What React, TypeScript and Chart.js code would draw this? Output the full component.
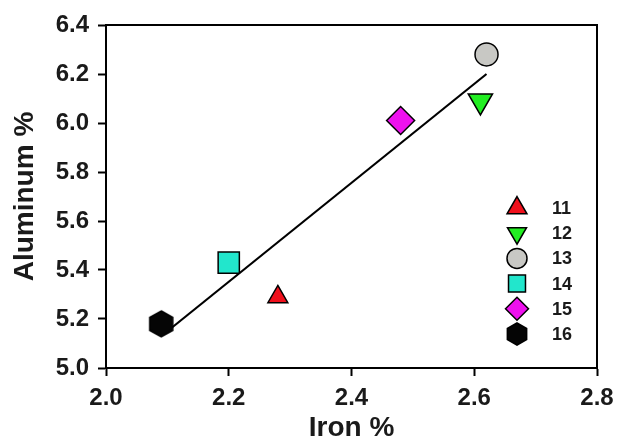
import React, { useEffect, useRef } from 'react';
import { Chart, registerables } from 'chart.js';

Chart.register(...registerables);

// ---- data ----
const SERIES_LABELS = ['11', '12', '13', '14', '15', '16'];
const IRON = [2.28, 2.61, 2.62, 2.2, 2.48, 2.09];
const ALUMINUM = [5.29, 6.09, 6.28, 5.43, 6.01, 5.18];
const FILL_COLORS = ['#f0101c', '#22ee22', '#c8c8c4', '#22e6cc', '#ee11ee', '#050505'];
const FIT_X = [2.1, 2.62];
const FIT_Y = [5.15, 6.2];
const X_TICKS = [2.0, 2.2, 2.4, 2.6, 2.8];
const Y_TICKS = [5.0, 5.2, 5.4, 5.6, 5.8, 6.0, 6.2, 6.4];

function makeHexagon(w: number, h: number, fill: string): HTMLCanvasElement {
  const c = document.createElement('canvas');
  c.width = w + 4;
  c.height = h + 4;
  const ctx = c.getContext('2d')!;
  const cx = c.width / 2;
  const cy = c.height / 2;
  const rx = w / 2;
  const ry = h / 2;
  ctx.beginPath();
  ctx.moveTo(cx, cy - ry);
  ctx.lineTo(cx + rx, cy - ry / 2);
  ctx.lineTo(cx + rx, cy + ry / 2);
  ctx.lineTo(cx, cy + ry);
  ctx.lineTo(cx - rx, cy + ry / 2);
  ctx.lineTo(cx - rx, cy - ry / 2);
  ctx.closePath();
  ctx.fillStyle = fill;
  ctx.fill();
  ctx.lineWidth = 1.5;
  ctx.strokeStyle = '#000';
  ctx.stroke();
  return c;
}

type Shape = { style: string; rot: number; r: number };
const PLOT_SHAPES: Shape[] = [
  { style: 'triangle', rot: 0, r: 11.5 },
  { style: 'triangle', rot: 180, r: 14 },
  { style: 'circle', rot: 0, r: 11.5 },
  { style: 'rect', rot: 0, r: 15 },
  { style: 'rectRot', rot: 0, r: 14 },
  { style: 'hex', rot: 0, r: 12 },
];
const LEGEND_SHAPES: Shape[] = [
  { style: 'triangle', rot: 0, r: 11.5 },
  { style: 'triangle', rot: 180, r: 11 },
  { style: 'circle', rot: 0, r: 10 },
  { style: 'rect', rot: 0, r: 12 },
  { style: 'rectRot', rot: 0, r: 11.5 },
  { style: 'hex', rot: 0, r: 10.5 },
];

function drawShape(ctx: CanvasRenderingContext2D, s: Shape, x: number, y: number, fill: string) {
  ctx.save();
  ctx.beginPath();
  const r = s.r;
  if (s.style === 'triangle') {
    let rad = (s.rot * Math.PI) / 180;
    for (let i = 0; i < 3; i++) {
      const px = x + Math.sin(rad) * r;
      const py = y - Math.cos(rad) * r;
      if (i === 0) ctx.moveTo(px, py);
      else ctx.lineTo(px, py);
      rad += (2 * Math.PI) / 3;
    }
  } else if (s.style === 'circle') {
    ctx.arc(x, y, r, 0, Math.PI * 2);
  } else if (s.style === 'rect') {
    const h = Math.SQRT1_2 * r;
    ctx.rect(x - h, y - h, 2 * h, 2 * h);
  } else if (s.style === 'rectRot') {
    ctx.moveTo(x - r, y);
    ctx.lineTo(x, y - r);
    ctx.lineTo(x + r, y);
    ctx.lineTo(x, y + r);
  } else {
    const rx = r * 0.92;
    const ry = r * 1.05;
    ctx.moveTo(x, y - ry);
    ctx.lineTo(x + rx, y - ry / 2);
    ctx.lineTo(x + rx, y + ry / 2);
    ctx.lineTo(x, y + ry);
    ctx.lineTo(x - rx, y + ry / 2);
    ctx.lineTo(x - rx, y - ry / 2);
  }
  ctx.closePath();
  ctx.fillStyle = fill;
  ctx.fill();
  ctx.lineWidth = 1.5;
  ctx.strokeStyle = '#000';
  ctx.stroke();
  ctx.restore();
}

const framePlugin = {
  id: 'frame',
  beforeDatasetsDraw(chart: any) {
    const { ctx, chartArea } = chart;
    ctx.save();
    ctx.strokeStyle = '#000';
    ctx.lineWidth = 2;
    ctx.strokeRect(chartArea.left, chartArea.top, chartArea.right - chartArea.left, chartArea.bottom - chartArea.top);
    ctx.restore();
  },
};

const legendPlugin = {
  id: 'customLegend',
  afterDatasetsDraw(chart: any) {
    const { ctx, chartArea } = chart;
    const markerX = chartArea.right - 80;
    const textX = chartArea.right - 45;
    const y0 = chartArea.bottom - 160;
    const step = 25.2;
    ctx.save();
    SERIES_LABELS.forEach((lab, i) => {
      const y = y0 + i * step;
      drawShape(ctx, LEGEND_SHAPES[i], markerX, y, FILL_COLORS[i]);
      ctx.fillStyle = '#1a1a1a';
      ctx.font = 'bold 18px "Liberation Sans", Arial, sans-serif';
      ctx.textAlign = 'left';
      ctx.textBaseline = 'middle';
      ctx.fillText(lab, textX, y + 1);
    });
    ctx.restore();
  },
};

export default function App() {
  const ref = useRef<HTMLCanvasElement | null>(null);

  useEffect(() => {
    if (!ref.current) return;
    const hex = makeHexagon(23, 26, FILL_COLORS[5]);
    const pointDatasets = SERIES_LABELS.map((lab, i) => ({
      label: lab,
      data: [{ x: IRON[i], y: ALUMINUM[i] }],
      pointStyle: PLOT_SHAPES[i].style === 'hex' ? (hex as any) : PLOT_SHAPES[i].style,
      rotation: PLOT_SHAPES[i].rot,
      pointRadius: PLOT_SHAPES[i].r,
      backgroundColor: FILL_COLORS[i],
      borderColor: '#000',
      borderWidth: 1.5,
      order: 0,
    }));
    const fitDataset = {
      label: 'fit',
      data: FIT_X.map((x, i) => ({ x, y: FIT_Y[i] })),
      showLine: true,
      pointRadius: 0,
      borderColor: '#000',
      borderWidth: 2.2,
      backgroundColor: '#000',
      order: 5,
    };
    const tickFont = { family: '"Liberation Sans", Arial, sans-serif', size: 24, weight: 'bold' as const };
    const titleFont = { family: '"Liberation Sans", Arial, sans-serif', size: 28, weight: 'bold' as const, lineHeight: 1 };
    const chart = new Chart(ref.current, {
      type: 'scatter',
      data: { datasets: [...pointDatasets, fitDataset] as any },
      options: {
        animation: false,
        responsive: false,
        layout: { padding: { left: 0, right: 21, top: 25, bottom: 0 } },
        plugins: { legend: { display: false }, tooltip: { enabled: false } },
        scales: {
          x: {
            type: 'linear',
            min: 2.0,
            max: 2.8,
            afterBuildTicks: (s: any) => {
              s.ticks = X_TICKS.map((v) => ({ value: v }));
            },
            afterFit: (s: any) => {
              s.height = 72;
              s.paddingLeft = 0;
              s.paddingRight = 0;
            },
            ticks: {
              font: tickFont,
              color: '#1a1a1a',
              padding: 8,
              maxRotation: 0,
              callback: (v: any) => Number(v).toFixed(1),
            },
            grid: { drawOnChartArea: false, drawTicks: true, tickLength: 8, tickWidth: 2, tickColor: '#000' },
            border: { display: true, color: '#000', width: 2 },
            title: { display: true, text: 'Iron %', font: titleFont, color: '#1a1a1a', padding: { top: 0, bottom: -2 } },
          },
          y: {
            type: 'linear',
            min: 5.0,
            max: 6.4,
            afterBuildTicks: (s: any) => {
              s.ticks = Y_TICKS.map((v) => ({ value: v }));
            },
            afterFit: (s: any) => {
              s.width = 106;
              s.paddingTop = 0;
              s.paddingBottom = 0;
            },
            ticks: {
              font: tickFont,
              color: '#1a1a1a',
              padding: 9,
              callback: (v: any) => Number(v).toFixed(1),
            },
            grid: { drawOnChartArea: false, drawTicks: true, tickLength: 8, tickWidth: 2, tickColor: '#000' },
            border: { display: true, color: '#000', width: 2 },
            title: { display: true, text: 'Aluminum %', font: titleFont, color: '#1a1a1a', padding: { top: 11, bottom: 0 } },
          },
        },
      },
      plugins: [framePlugin, legendPlugin],
    });
    return () => chart.destroy();
  }, []);

  return (
    <div style={{ position: 'absolute', left: 0, top: 0, width: 618, height: 440, background: '#fff' }}>
      <canvas ref={ref} width={618} height={440} style={{ display: 'block', width: 618, height: 440 }} />
    </div>
  );
}
